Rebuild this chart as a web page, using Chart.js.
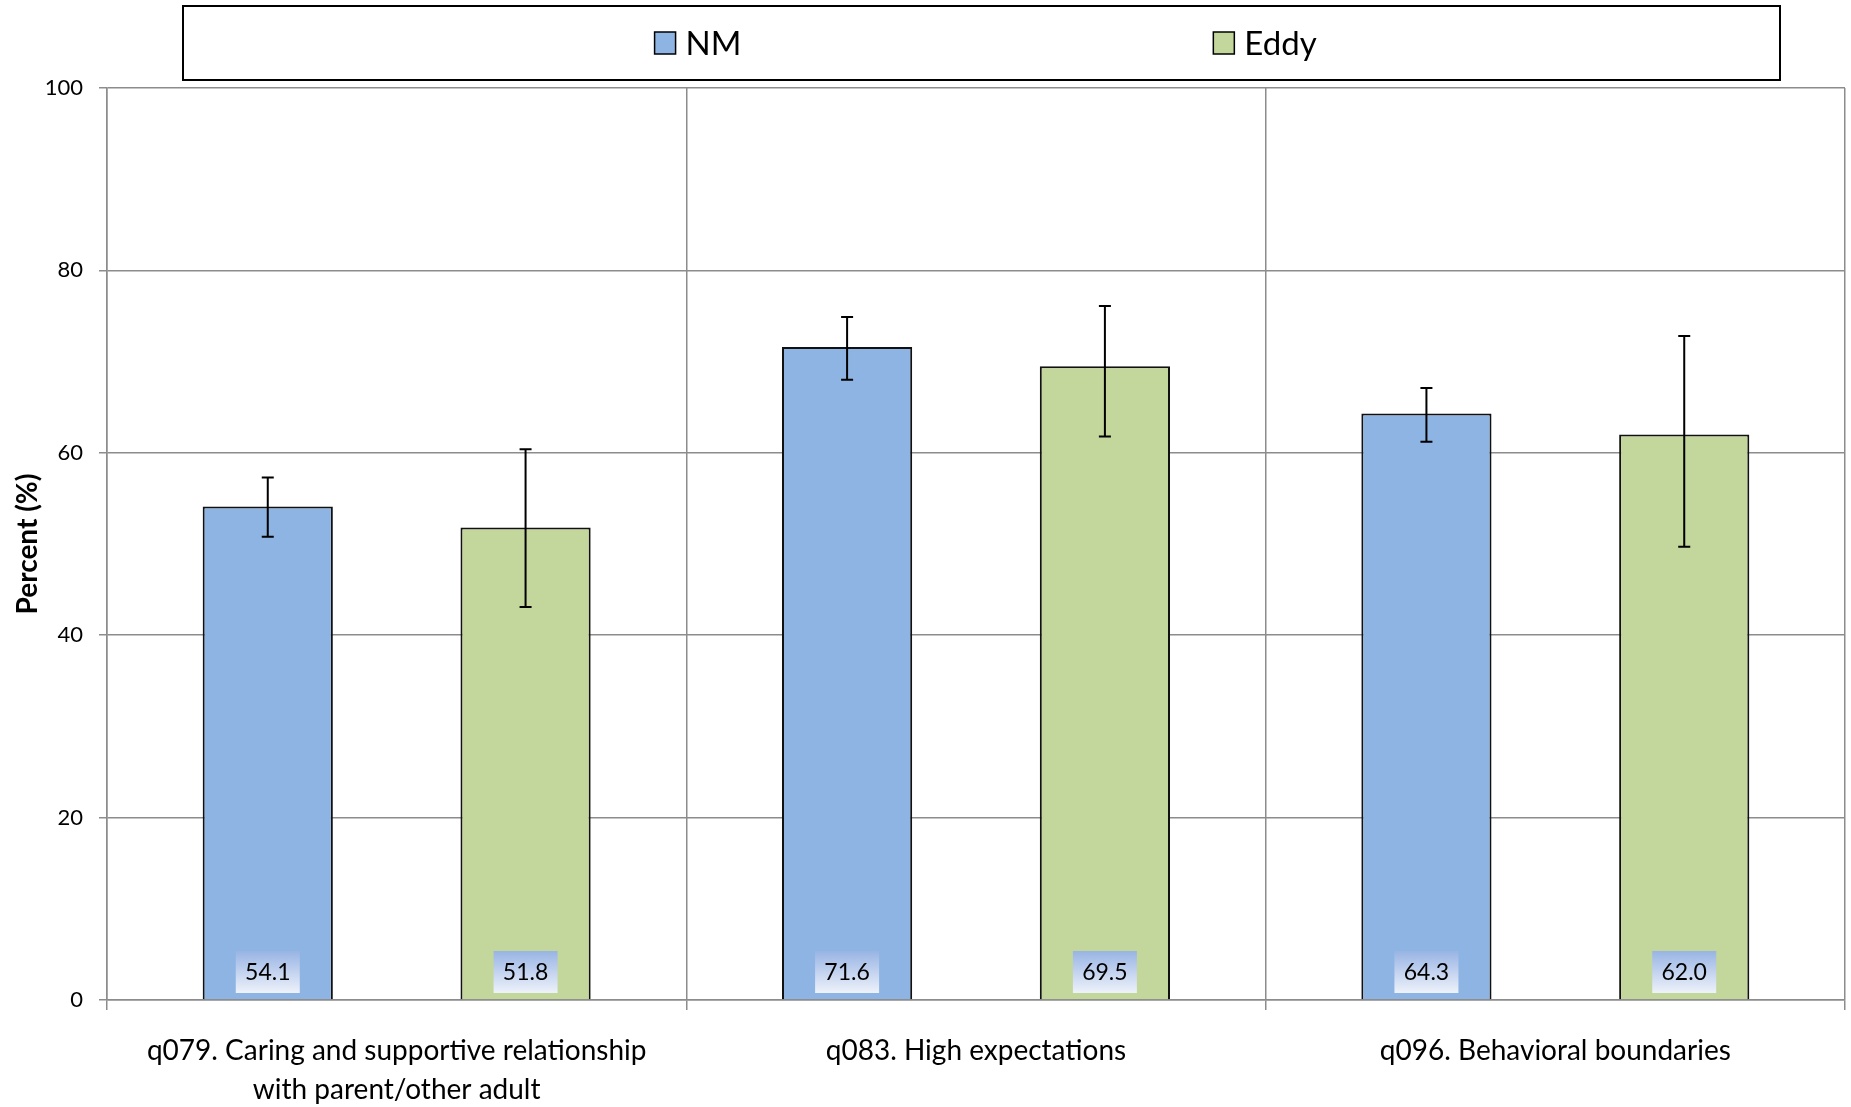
<!DOCTYPE html>
<html>
<head>
<meta charset="utf-8">
<script src="https://cdn.jsdelivr.net/npm/chart.js@4/dist/chart.umd.min.js"></script>
<style>
  html, body { margin: 0; padding: 0; background: #fff; }
  #chart { display: block; }
</style>
</head>
<body>
<canvas id="chart" width="1851" height="1107"></canvas>
<script>
// values
const categories = [
    ['q079. Caring and supportive relationship', 'with parent/other adult'],
    'q083. High expectations',
    'q096. Behavioral boundaries'
];
const seriesNames = ['NM', 'Eddy'];
const nmValues = [54.1, 71.6, 64.3];
const eddyValues = [51.8, 69.5, 62.0];
const nmLower = [50.8, 68.0, 61.2];
const nmUpper = [57.3, 74.9, 67.1];
const eddyLower = [43.1, 61.8, 49.7];
const eddyUpper = [60.4, 76.1, 72.8];
const yTicks = [0, 20, 40, 60, 80, 100];

const FONT = 'Lato, "Open Sans", sans-serif';
const gridGray = '#8c8c8c';

// error bars + value boxes at the foot of each bar
const barExtras = {
    id: 'barExtras',
    afterDatasetsDraw(chart) {
        const ctx = chart.ctx;
        const y = chart.scales.y;
        chart.data.datasets.forEach((ds, di) => {
            const meta = chart.getDatasetMeta(di);
            meta.data.forEach((bar, i) => {
                // value label box
                const w = 64, h = 42;
                const bx = bar.x - w / 2;
                const by = y.bottom - 7 - h;
                const g = ctx.createLinearGradient(0, by, 0, by + h);
                g.addColorStop(0, '#98b4e4');
                g.addColorStop(1, '#eef2fa');
                ctx.save();
                ctx.fillStyle = g;
                ctx.fillRect(bx, by, w, h);
                ctx.fillStyle = '#000';
                ctx.font = '23px ' + FONT;
                ctx.textAlign = 'center';
                ctx.textBaseline = 'middle';
                ctx.fillText(ds.data[i].toFixed(1), bar.x, by + h / 2 + 1);

                // error bar
                const lo = y.getPixelForValue(ds.errLow[i]);
                const hi = y.getPixelForValue(ds.errHigh[i]);
                ctx.strokeStyle = '#000';
                ctx.lineWidth = 2;
                ctx.beginPath();
                ctx.moveTo(bar.x, lo); ctx.lineTo(bar.x, hi);
                ctx.moveTo(bar.x - 6, lo); ctx.lineTo(bar.x + 6, lo);
                ctx.moveTo(bar.x - 6, hi); ctx.lineTo(bar.x + 6, hi);
                ctx.stroke();
                ctx.restore();
            });
        });
    }
};

// framed legend across the top
const boxLegend = {
    id: 'boxLegend',
    afterDraw(chart, args, opts) {
        const ctx = chart.ctx;
        const b = opts.box;
        ctx.save();
        ctx.strokeStyle = '#000';
        ctx.lineWidth = 2;
        ctx.strokeRect(b.x, b.y, b.w, b.h);
        const cx = b.x + b.w / 2, cy = b.y + b.h / 2;
        ctx.font = '33px ' + FONT;
        ctx.textBaseline = 'middle';
        chart.data.datasets.forEach((ds, i) => {
            const tw = ctx.measureText(ds.label).width;
            const itemW = 21 + 10 + tw;
            const center = cx + (i - 0.5) * opts.spacing;
            const x0 = center - itemW / 2;
            ctx.fillStyle = ds.backgroundColor;
            ctx.fillRect(x0, cy - 11, 21, 22);
            ctx.strokeStyle = '#000';
            ctx.lineWidth = 1.5;
            ctx.strokeRect(x0, cy - 11, 21, 22);
            ctx.fillStyle = '#000';
            ctx.fillText(ds.label, x0 + 31, cy + 1);
        });
        ctx.restore();
    }
};

new Chart(document.getElementById('chart'), {
    type: 'bar',
    data: {
        labels: categories,
        datasets: [
            {
                label: seriesNames[0],
                data: nmValues,
                errLow: nmLower,
                errHigh: nmUpper,
                backgroundColor: '#8eb4e3',
                borderColor: '#111',
                borderWidth: 2
            },
            {
                label: seriesNames[1],
                data: eddyValues,
                errLow: eddyLower,
                errHigh: eddyUpper,
                backgroundColor: '#c3d69b',
                borderColor: '#111',
                borderWidth: 2
            }
        ]
    },
    options: {
        responsive: false,
        animation: false,
        categoryPercentage: 0.89,
        barPercentage: 0.505,
        layout: { padding: { top: 88, right: 6, left: 0, bottom: 0 } },
        plugins: {
            legend: { display: false },
            tooltip: { enabled: false },
            boxLegend: { box: { x: 183, y: 6, w: 1597, h: 74 }, spacing: 567 }
        },
        scales: {
            x: {
                grid: { color: gridGray, lineWidth: 1.5, offset: true, tickLength: 10, tickColor: gridGray },
                border: { color: gridGray, width: 1.5 },
                ticks: { color: '#000', font: { family: FONT, size: 28, lineHeight: 1.4 }, padding: 21, maxRotation: 0, autoSkip: false },
                afterFit: s => { s.height = 107; }
            },
            y: {
                min: 0,
                max: 100,
                afterBuildTicks: s => { s.ticks = yTicks.map(v => ({ value: v })); },
                grid: { color: gridGray, lineWidth: 1.5, tickLength: 8, tickColor: gridGray },
                border: { color: gridGray, width: 1.5 },
                ticks: { color: '#000', font: { family: FONT, size: 22 }, padding: 16 },
                title: { display: true, text: 'Percent (%)', color: '#000', font: { family: FONT, size: 28, weight: 'bold' }, padding: { top: 11, bottom: 0 } },
                afterFit: s => { s.width = 107; }
            }
        }
    },
    plugins: [barExtras, boxLegend]
});
</script>
</body>
</html>
